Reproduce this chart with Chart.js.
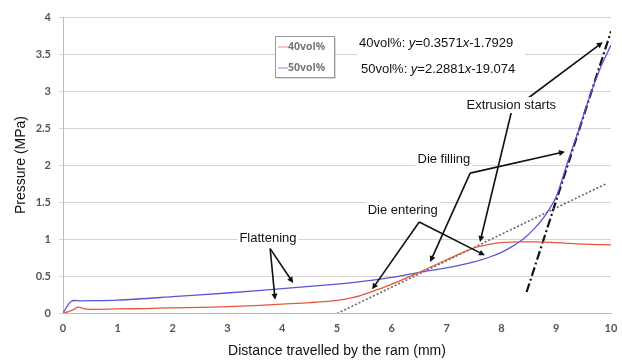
<!DOCTYPE html>
<html><head><meta charset="utf-8">
<script src="https://cdn.jsdelivr.net/npm/chart.js@4/dist/chart.umd.min.js"></script>
<style>html,body{margin:0;padding:0;background:#fff}#wrap{width:622px;height:360px}</style>
</head><body><div id="wrap"><canvas id="c" width="622" height="360"></canvas></div>
<script>
// ---- data ----
const xTicks = [0,1,2,3,4,5,6,7,8,9,10];
const yTicks = [0,0.5,1,1.5,2,2.5,3,3.5,4];
const seriesNames = ["40vol%","50vol%"];
const x40 = [0,0.1,0.2,0.28,0.4,0.5,1,1.5,2,2.5,3,3.5,4,4.5,5,5.3,5.6,6.0,6.5,7.0,7.5,7.8,8.0,8.3,8.6,9.0,9.5,10];
const y40 = [0,0.02,0.05,0.08,0.055,0.05,0.055,0.06,0.07,0.075,0.085,0.1,0.12,0.14,0.17,0.21,0.28,0.39,0.55,0.72,0.88,0.93,0.95,0.96,0.96,0.95,0.93,0.92];
const x50 = [0,0.15,0.3,1,2,3,4,5,5.5,6,6.5,7,7.5,7.8,8.0,8.2,8.4,8.6,8.8,9.0,9.2,9.4,9.6,9.8,10];
const y50 = [0,0.16,0.165,0.175,0.22,0.27,0.33,0.39,0.43,0.48,0.55,0.61,0.69,0.76,0.82,0.9,1.0,1.14,1.32,1.57,2.02,2.45,2.9,3.3,3.62];
// linear fits: [slope, intercept, xStart, xEnd]
const fit40 = [0.3571,-1.7929,5,9.9];
const fit50 = [2.2881,-19.074,8.46,10];
const fitText = ["40vol%: y=0.3571x-1.7929","50vol%: y=2.2881x-19.074"];
// annotations: label, label x/y, origin x/y, arrow tips
const annLabels = ["Flattening","Die entering","Die filling","Extrusion starts"];
const annLabelPos = [[3.74,1.01],[6.2,1.39],[6.95,2.07],[8.18,2.81]];
const annOrigin = [[3.78,0.87],[6.5,1.23],[7.43,1.89],[8.19,2.74]];
const annTips = [[[3.87,0.18],[4.2,0.405]],[[5.64,0.32],[7.7,0.78]],[[9.16,2.18],[6.7,0.69]],[[9.85,3.66],[7.61,0.96]]];

const pts = (xs,ys)=>xs.map((x,i)=>({x:x,y:ys[i]}));
const fitPts = f=>[{x:f[2],y:f[0]*f[2]+f[1]},{x:f[3],y:f[0]*f[3]+f[1]}];

const RED='#e5583a', BLUE='#5656d8';

const annPlugin = {
  id:'ann',
  afterDatasetsDraw(chart){
    const ctx=chart.ctx, xs=chart.scales.x, ys=chart.scales.y;
    const P=(p)=>[xs.getPixelForValue(p[0]),ys.getPixelForValue(p[1])];
    ctx.save();
    // arrows
    ctx.strokeStyle='#111'; ctx.fillStyle='#111'; ctx.lineWidth=1.6;
    annOrigin.forEach((o,i)=>{
      const [ox,oy]=P(o);
      annTips[i].forEach(t=>{
        const [tx,ty]=P(t);
        const a=Math.atan2(ty-oy,tx-ox);
        const L=6,W=3;
        ctx.beginPath();ctx.moveTo(ox,oy);ctx.lineTo(tx-Math.cos(a)*L*0.8,ty-Math.sin(a)*L*0.8);ctx.stroke();
        ctx.beginPath();ctx.moveTo(tx,ty);
        ctx.lineTo(tx-Math.cos(a)*L-Math.sin(a)*W,ty-Math.sin(a)*L+Math.cos(a)*W);
        ctx.lineTo(tx-Math.cos(a)*L+Math.sin(a)*W,ty-Math.sin(a)*L-Math.cos(a)*W);
        ctx.closePath();ctx.fill();
      });
    });
    // labels
    ctx.font='13px "Liberation Sans", Arial, sans-serif';
    ctx.textBaseline='middle'; ctx.textAlign='center';
    annLabels.forEach((s,i)=>{
      const [lx,ly]=P(annLabelPos[i]);
      const w=ctx.measureText(s).width;
      ctx.fillStyle='#fff'; ctx.fillRect(lx-w/2-2,ly-8,w+4,16);
      ctx.fillStyle='#111'; ctx.fillText(s,lx,ly);
    });
    // equations
    const ca=chart.chartArea;
    const ex=ca.left+296, ey=[ca.top+26,ca.top+52];
    ctx.fillStyle='#fff'; ctx.fillRect(ex-2,ca.top+16,168,46);
    ctx.textAlign='left';
    fitText.forEach((t,i)=>{
      let x=ex+(i===1?2:0);
      const parts=t.split(/(y|x)/);
      parts.forEach(p=>{
        if(p==='y'||p==='x'){ctx.font='italic 13px "Liberation Sans", Arial, sans-serif';}
        else ctx.font='13px "Liberation Sans", Arial, sans-serif';
        ctx.fillStyle='#111';ctx.fillText(p,x,ey[i]);
        x+=ctx.measureText(p).width;
      });
    });
    // legend
    const lx=ca.left+212, ly=ca.top+19;
    ctx.fillStyle='rgba(0,0,0,0.15)'; ctx.fillRect(lx+2,ly+2,59,41);
    ctx.fillStyle='#fff'; ctx.fillRect(lx,ly,59,41);
    ctx.strokeStyle='#999'; ctx.lineWidth=1; ctx.strokeRect(lx+0.5,ly+0.5,59,41);
    ctx.font='bold 10.5px "Open Sans", sans-serif';
    chart.data.datasets.slice(0,2).forEach((d,i)=>{
      const yy=ly+11+i*21;
      ctx.strokeStyle=i===0?'#f0a090':'#9a9aee'; ctx.lineWidth=1.2;
      ctx.beginPath();ctx.moveTo(lx+3,yy);ctx.lineTo(lx+13,yy);ctx.stroke();
      ctx.fillStyle='#777';ctx.fillText(d.label,lx+13,yy);
    });
    ctx.restore();
  }
};

new Chart(document.getElementById('c'),{
  type:'scatter',
  data:{datasets:[
    {label:seriesNames[0],data:pts(x40,y40),showLine:true,borderColor:RED,borderWidth:1.3,pointRadius:0,tension:0.3},
    {label:seriesNames[1],data:pts(x50,y50),showLine:true,borderColor:BLUE,borderWidth:1.3,pointRadius:0,tension:0.3},
    {label:'fit40',data:fitPts(fit40),showLine:true,borderColor:'#666',borderWidth:1.6,borderDash:[2,2],pointRadius:0},
    {label:'fit50',data:fitPts(fit50),showLine:true,borderColor:'#111',borderWidth:2.2,borderDash:[9,3,2,3],pointRadius:0}
  ]},
  options:{
    responsive:false,animation:false,
    layout:{padding:{top:17,right:11,left:0,bottom:0}},
    plugins:{legend:{display:false},tooltip:{enabled:false}},
    scales:{
      x:{type:'linear',min:0,max:10,
        afterBuildTicks:s=>{s.ticks=xTicks.map(v=>({value:v}));},
        afterFit:s=>{s.height=47;},
        grid:{display:false,drawTicks:true,tickLength:5,color:'#bbb'},
        border:{color:'#bbb'},
        ticks:{color:'#555',font:{family:'Lato',size:11,weight:'bold'},padding:4,maxRotation:0},
        title:{display:true,text:'Distance travelled by the ram (mm)',color:'#111',font:{family:'"Liberation Sans", Arial',size:14},padding:{top:2,bottom:0}}
      },
      y:{type:'linear',min:0,max:4,
        afterBuildTicks:s=>{s.ticks=yTicks.map(v=>({value:v}));},
        afterFit:s=>{s.width=63;},
        grid:{color:'#d4d4d4',lineWidth:1,tickLength:4},
        border:{color:'#bbb'},
        ticks:{color:'#555',font:{family:'Lato',size:11,weight:'bold'},padding:8,callback:v=>String(v)},
        title:{display:true,text:'Pressure (MPa)',color:'#111',font:{family:'"Liberation Sans", Arial',size:14},padding:{top:13,bottom:4}}
      }
    }
  },
  plugins:[annPlugin]
});
</script></body></html>
